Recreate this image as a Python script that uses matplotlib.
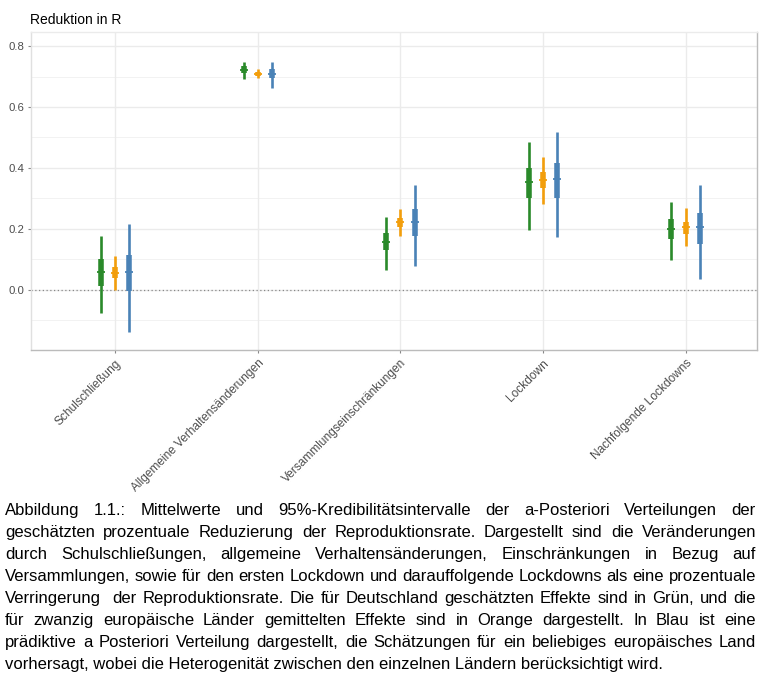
import matplotlib
matplotlib.use("Agg")
import matplotlib.pyplot as plt
import numpy as np

plt.rcParams['font.family'] = ['Liberation Sans', 'DejaVu Sans']

categories = ["Schulschließung", "Allgemeine Verhaltensänderungen",
              "Versammlungseinschränkungen", "Lockdown", "Nachfolgende Lockdowns"]

# Deutschland (green)
de_mean = [0.058, 0.722, 0.158, 0.353, 0.200]
de_lo95 = [-0.075, 0.692, 0.067, 0.196, 0.097]
de_hi95 = [0.178, 0.749, 0.239, 0.484, 0.290]
de_lo50 = [0.014, 0.711, 0.130, 0.303, 0.167]
de_hi50 = [0.102, 0.733, 0.187, 0.399, 0.233]

# Europa Mittel (orange)
eu_mean = [0.056, 0.709, 0.222, 0.362, 0.207]
eu_lo95 = [0.000, 0.694, 0.176, 0.283, 0.143]
eu_hi95 = [0.110, 0.725, 0.266, 0.436, 0.268]
eu_lo50 = [0.038, 0.703, 0.207, 0.333, 0.183]
eu_hi50 = [0.075, 0.716, 0.237, 0.386, 0.224]

# Prädiktiv (blue)
pr_mean = [0.058, 0.709, 0.222, 0.364, 0.207]
pr_lo95 = [-0.137, 0.661, 0.080, 0.172, 0.036]
pr_hi95 = [0.215, 0.749, 0.344, 0.517, 0.344]
pr_lo50 = [-0.005, 0.694, 0.176, 0.301, 0.152]
pr_hi50 = [0.115, 0.725, 0.266, 0.416, 0.252]

yticks = [0.0, 0.2, 0.4, 0.6, 0.8]
ytick_labels = ["0.0", "0.2", "0.4", "0.6", "0.8"]

caption_lines = [
    "Abbildung 1.1.: Mittelwerte und 95%-Kredibilitätsintervalle der a-Posteriori Verteilungen der",
    "geschätzten prozentuale Reduzierung der Reproduktionsrate. Dargestellt sind die Veränderungen",
    "durch Schulschließungen, allgemeine Verhaltensänderungen, Einschränkungen in Bezug auf",
    "Versammlungen, sowie für den ersten Lockdown und darauffolgende Lockdowns als eine prozentuale",
    "Verringerung  der Reproduktionsrate. Die für Deutschland geschätzten Effekte sind in Grün, und die",
    "für zwanzig europäische Länder gemittelten Effekte sind in Orange dargestellt. In Blau ist eine",
    "prädiktive a Posteriori Verteilung dargestellt, die Schätzungen für ein beliebiges europäisches Land",
    "vorhersagt, wobei die Heterogenität zwischen den einzelnen Ländern berücksichtigt wird.",
]

W, H = 769, 681
fig = plt.figure(figsize=(W / 100, H / 100), dpi=100)
ax = fig.add_axes([31 / W, 1 - 350 / H, (757 - 31) / W, (350 - 32) / H])

x = np.arange(1, len(categories) + 1)
series = [
    (-0.1, "#2a8a2a", de_mean, de_lo95, de_hi95, de_lo50, de_hi50),
    (0.0, "#f29e0c", eu_mean, eu_lo95, eu_hi95, eu_lo50, eu_hi50),
    (0.1, "#4a82b6", pr_mean, pr_lo95, pr_hi95, pr_lo50, pr_hi50),
]

# grid
for v in [-0.1, 0.1, 0.3, 0.5, 0.7]:
    ax.axhline(v, color="#f0f0f0", lw=0.6, zorder=0)
for v in yticks:
    ax.axhline(v, color="#ebebeb", lw=1.0, zorder=0)
for xi in x:
    ax.axvline(xi, color="#ebebeb", lw=1.0, zorder=0)
ax.axhline(0.0, color="#888888", lw=0.9, ls=(0, (1, 2)), zorder=1)

for off, col, m, lo95, hi95, lo50, hi50 in series:
    xs = x + off
    ax.vlines(xs, lo95, hi95, color=col, lw=1.9, capstyle='butt', zorder=3)
    ax.vlines(xs, lo50, hi50, color=col, lw=4.0, capstyle='butt', zorder=4)
    ax.plot(xs, m, ls='none', marker='_', ms=6, mew=1.3, color=col, zorder=5)

ax.set_xlim(0.41, 5.5)
ax.set_ylim(-0.197, 0.846)
ax.set_yticks(yticks)
ax.set_yticklabels(ytick_labels)
ax.set_xticks(x)
ax.set_xticklabels(categories, rotation=45, ha='right', va='top', rotation_mode='anchor')
ax.tick_params(axis='both', colors="#888888", labelcolor="#4d4d4d", labelsize=8.2,
               length=2.5, width=0.8, pad=2)
ax.tick_params(axis='x', labelsize=8.6)
for lab in ax.get_xticklabels():
    lab.set_transform(lab.get_transform() + matplotlib.transforms.ScaledTranslation(0 / 100, -1 / 100, fig.dpi_scale_trans))

ax.spines['top'].set_color("#ebebeb")
ax.spines['left'].set_color("#e0e0e0")
ax.spines['bottom'].set_color("#bbbbbb")
ax.spines['right'].set_color("#bbbbbb")
for s in ax.spines.values():
    s.set_linewidth(1.0)

fig.text(30 / W, 1 - 24 / H, "Reduktion in R", fontsize=10, color="black", ha='left', va='baseline')

# justified caption
fs = 12
left_px, right_px = 5, 756
renderer = fig.canvas.get_renderer()
for i, line in enumerate(caption_lines):
    ybase = 1 - (515.3 + 22.0 * i) / H
    if i == len(caption_lines) - 1:
        fig.text(left_px / W, ybase, line, fontsize=fs, ha='left', va='baseline', color='black')
        continue
    words = line.split(' ')
    widths = []
    for w in words:
        if w == "":
            widths.append(0.0)
            continue
        t = fig.text(0, 0, w, fontsize=fs)
        bb = t.get_window_extent(renderer=renderer)
        widths.append(bb.width)
        t.remove()
    gap = (right_px - left_px - sum(widths)) / (len(words) - 1)
    xpos = left_px
    for w, wd in zip(words, widths):
        if w:
            fig.text(xpos / W, ybase, w, fontsize=fs, ha='left', va='baseline', color='black')
        xpos += wd + gap

fig.savefig("out.png", dpi=100, facecolor="white")
